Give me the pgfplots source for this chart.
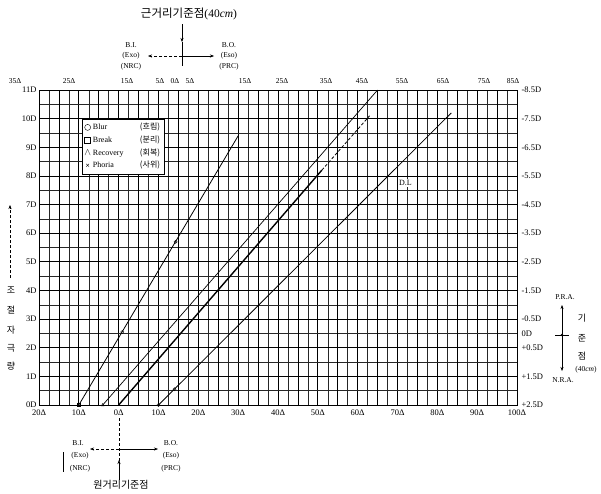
\documentclass[border=0pt]{standalone}
\usepackage{pgfplots}
\pgfplotsset{compat=1.18}
\usepackage{fontspec}
\setmainfont{Liberation Serif}
\newfontfamily\kr{Noto Sans CJK KR}
\usetikzlibrary{arrows.meta}
\begin{document}
\begin{tikzpicture}
\path[use as bounding box] (0pt,0pt) rectangle (601pt,-493pt);
\begin{axis}[
  at={(39pt,-405pt)}, anchor=south west,
  scale only axis, width=478pt, height=315pt,
  xmin=-20, xmax=100, ymin=0, ymax=11,
  axis line style={black, line width=1pt},
  xtick={-20,-10,...,100},
  xticklabels={20Δ,10Δ,0Δ,10Δ,20Δ,30Δ,40Δ,50Δ,60Δ,70Δ,80Δ,90Δ,100Δ},
  minor xtick={-17.5,-12.5,...,97.5},
  extra x ticks={-15,-5,...,95}, extra x tick labels={},
  extra x tick style={grid=major},
  ytick={0,...,11},
  yticklabels={0D,1D,2D,3D,4D,5D,6D,7D,8D,9D,10D,11D},
  minor ytick={0.5,1.5,...,10.5},
  grid=both,
  major grid style={black, line width=0.8pt},
  minor grid style={black!85, line width=0.5pt},
  major tick length=0pt, minor tick length=0pt,
  tick label style={font=\fontsize{8.5}{9}\selectfont},
  xticklabel style={yshift=-1pt},
  yticklabel style={xshift=1pt},
  legend style={at={(axis cs:-9.3,10)}, anchor=north west, draw=black, fill=white,
    font=\fontsize{8}{9}\selectfont, row sep=0.5pt, inner sep=2.5pt},
  legend cell align=left,
  clip=false,
]
\addlegendimage{only marks, mark=o, mark size=3pt, black}
\addlegendentry{\makebox[47pt][l]{Blur}{\kr (흐림)}}
\addlegendimage{only marks, mark=square, mark size=3pt, black}
\addlegendentry{\makebox[47pt][l]{Break}{\kr (분리)}}
\addlegendimage{only marks, mark=text, text mark={$\wedge$}, black}
\addlegendentry{\makebox[47pt][l]{Recovery}{\kr (회복)}}
\addlegendimage{only marks, mark=x, mark size=2pt, black}
\addlegendentry{\makebox[47pt][l]{Phoria}{\kr (사위)}}

% line 1
\addplot[black, line width=0.8pt] coordinates {(-10,0) (30,9.4)};
\addplot[only marks, mark=square, mark size=1.6pt, black, fill=white] coordinates {(-10,0)};
\addplot[only marks, mark=o, mark size=1.6pt, black, fill=white] coordinates {(0.9,2.55) (14.3,5.7)};
% line 2
\addplot[black, line width=0.7pt] coordinates {(-4,0) (65,11)};
\addplot[only marks, mark=triangle, mark size=1.6pt, black, fill=white] coordinates {(-4,0)};
% line 3 (bold)
\addplot[black, line width=1.4pt] coordinates {(0,0) (51,8.2)};
\addplot[black, densely dashed, line width=0.8pt] coordinates {(51,8.2) (63,10.1)};
% line 4
\addplot[black, line width=0.8pt] coordinates {(10,0) (83.5,10.2)};
\addplot[only marks, mark=o, mark size=1.6pt, black, fill=white] coordinates {(10,0) (14,0.55)};
\node[font=\fontsize{8}{9}\selectfont, fill=white, inner sep=1pt] at (axis cs:72,7.75) {D.L};
\end{axis}

% right axis labels
\begin{axis}[
  at={(39pt,-405pt)}, anchor=south west,
  scale only axis, width=478pt, height=315pt,
  xmin=-20, xmax=100, ymin=0, ymax=11,
  axis y line*=right, axis x line=none,
  axis line style={black, line width=1pt},
  ytick={0,1,2,2.5,3,4,5,6,7,8,9,10,11},
  yticklabels={+2.5D,+1.5D,+0.5D,0D,-0.5D,-1.5D,-2.5D,-3.5D,-4.5D,-5.5D,-6.5D,-7.5D,-8.5D},
  major tick length=0pt,
  yticklabel style={anchor=west, xshift=1pt, font=\fontsize{8.5}{9}\selectfont},
]
\end{axis}

\begin{scope}[x=1pt, y=-1pt, font=\fontsize{7.5}{8}\selectfont]
% top labels
\foreach \px/\lab in {15/35Δ,69/25Δ,127/15Δ,160/5Δ,175/0Δ,190/5Δ,245/15Δ,282/25Δ,326/35Δ,362/45Δ,402/55Δ,443/65Δ,484/75Δ,513/85Δ}
  \node at (\px,81) {\lab};
% top annotation
\node[font=\fontsize{11.5}{12}\selectfont] at (189,14) {{\kr 근거리기준점}(40\textit{cm})};
\draw[-{Stealth[length=4pt,width=3pt]}] (182,24) -- (182,42);
\draw (182,42) -- (182,66);
\draw[densely dashed, -{Stealth[length=4pt,width=3pt]}] (182,56) -- (148,56);
\draw[-{Stealth[length=4pt,width=3pt]}] (182,56) -- (214,56);
\node at (131,45) {B.I.};
\node at (131,56) {(Exo)};
\node at (131,67) {(NRC)};
\node at (229,45) {B.O.};
\node at (229,56) {(Eso)};
\node at (229,67) {(PRC)};
% bottom annotation
\draw[densely dashed] (119,418) -- (119,472);
\draw[densely dashed, -{Stealth[length=4pt,width=3pt]}] (119,449) -- (90,449);
\draw[-{Stealth[length=4pt,width=3pt]}] (119,449) -- (158,449);
\draw[-{Stealth[length=4pt,width=3pt]}] (119,480) -- (119,460);
\node at (78,443) {B.I.};
\node at (80,456) {(Exo)};
\node at (80,469) {(NRC)};
\draw (63,452) -- (63,472);
\node at (171,443) {B.O.};
\node at (171,456) {(Eso)};
\node at (171,469) {(PRC)};
\node[font=\kr\fontsize{10}{11}\selectfont] at (121,485) {원거리기준점};
% right annotation
\node at (565,297) {P.R.A.};
\node at (563,380) {N.R.A.};
\draw[{Stealth[length=4pt,width=3pt]}-{Stealth[length=4pt,width=3pt]}] (562,305) -- (562,371);
\draw (555,335) -- (569,335);
\fill (562,335) circle (1.3);
\node[font=\kr\fontsize{9}{10}\selectfont] at (582,318) {기};
\node[font=\kr\fontsize{9}{10}\selectfont] at (582,338) {준};
\node[font=\kr\fontsize{9}{10}\selectfont] at (582,356) {점};
\node at (586,370) {(40\textit{cm})};
% left annotation
\draw[densely dashed, -{Stealth[length=4pt,width=3pt]}] (10,278) -- (10,205);
\foreach \ch/\yy in {조/290,절/310,자/330,극/348,량/366}
  \node[font=\kr\fontsize{9}{10}\selectfont] at (11,\yy) {\ch};
\end{scope}
\end{tikzpicture}
\end{document}
